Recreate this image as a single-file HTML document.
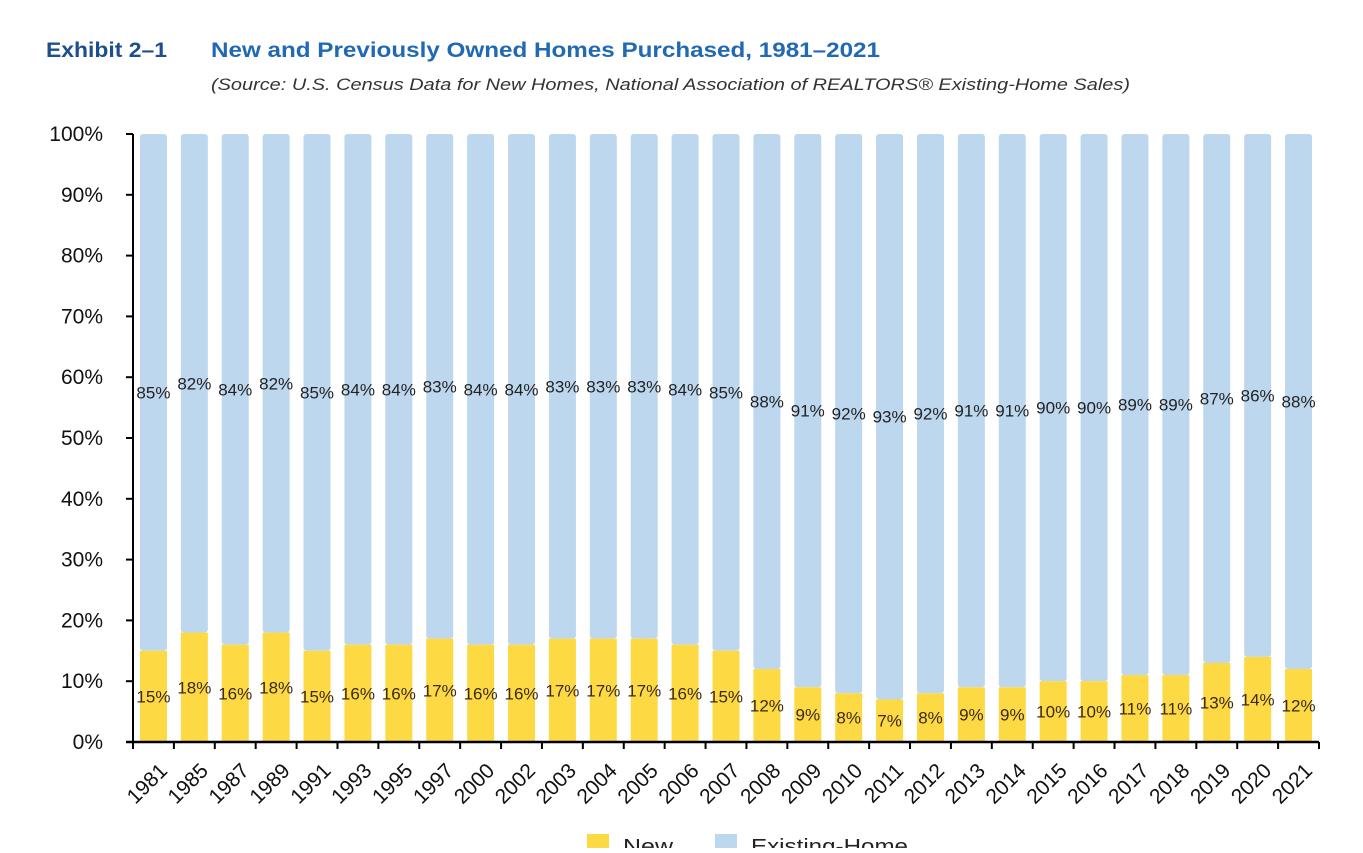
<!DOCTYPE html>
<html><head><meta charset="utf-8"><style>
body{margin:0;background:#fff;font-family:"Liberation Sans",sans-serif;}
</style></head><body>
<svg width="1363" height="848" viewBox="0 0 1363 848" xmlns="http://www.w3.org/2000/svg" font-family="Liberation Sans, sans-serif">
<text x="46" y="57" font-size="21" font-weight="bold" fill="#1d4f8a" textLength="121" lengthAdjust="spacingAndGlyphs">Exhibit 2–1</text>
<text x="211" y="57" font-size="21" font-weight="bold" fill="#2169b3" textLength="669" lengthAdjust="spacingAndGlyphs">New and Previously Owned Homes Purchased, 1981–2021</text>
<text x="211" y="90" font-size="17" font-style="italic" fill="#333" textLength="919" lengthAdjust="spacingAndGlyphs">(Source: U.S. Census Data for New Homes, National Association of REALTORS® Existing-Home Sales)</text>
<g id="plot"></g>
<g>
<rect x="587" y="834" width="22" height="22" fill="#fdd944"/>
<text x="623" y="853" font-size="20" fill="#222" textLength="50" lengthAdjust="spacingAndGlyphs">New</text>
<rect x="715" y="834" width="22" height="22" fill="#bdd7ee"/>
<text x="751" y="853" font-size="20" fill="#222" textLength="157" lengthAdjust="spacingAndGlyphs">Existing-Home</text>
</g>
</svg>
<script>
const categories=["1981","1985","1987","1989","1991","1993","1995","1997","2000","2002","2003","2004","2005","2006","2007","2008","2009","2010","2011","2012","2013","2014","2015","2016","2017","2018","2019","2020","2021"];
const newVals=[15,18,16,18,15,16,16,17,16,16,17,17,17,16,15,12,9,8,7,8,9,9,10,10,11,11,13,14,12];
const existingVals=[85,82,84,82,85,84,84,83,84,84,83,83,83,84,85,88,91,92,93,92,91,91,90,90,89,89,87,86,88];
const yTicks=[0,10,20,30,40,50,60,70,80,90,100];
const NS="http://www.w3.org/2000/svg";
const g=document.getElementById('plot');
const x0=133,x1=1319,yB=742,yT=134;
const slot=(x1-x0)/categories.length, bw=27;
const y=v=>yB-(v/100)*(yB-yT);
const cx=i=>x0+slot*(i+0.5);
function el(t,a){const e=document.createElementNS(NS,t);for(const k in a)e.setAttribute(k,a[k]);g.appendChild(e);return e;}
categories.forEach((c,i)=>{
  const total=newVals[i]+existingVals[i];
  const top=y(total), mid=y(newVals[i]);
  let b=el('rect',{x:cx(i)-bw/2,y:top,width:bw,height:mid-top,rx:3,fill:'#bdd7ee'});
  
  
  let b2=el('rect',{x:cx(i)-bw/2,y:mid,width:bw,height:yB-mid,fill:'#fdd944'});
  
  
  let t1=el('text',{x:cx(i),y:(yB+mid)/2+6,'text-anchor':'middle','font-size':17,fill:'#3a2a1a'});
  t1.textContent=newVals[i]+'%';
  
  
  let t2=el('text',{x:cx(i),y:(mid+top)/2+6,'text-anchor':'middle','font-size':17,fill:'#222'});
  t2.textContent=existingVals[i]+'%';
  
  
  let xl=el('text',{x:0,y:0,'text-anchor':'end','font-size':21,fill:'#111',transform:`translate(${cx(i)+15},${772}) rotate(-45)`});
  xl.textContent=c;
  
  
});
for(let i=0;i<=categories.length;i++){
  let t=el('line',{x1:x0+slot*i,x2:x0+slot*i,y1:yB,y2:yB+7,stroke:'#000','stroke-width':2});
  
  
}
yTicks.forEach(v=>{
  let t=el('line',{x1:x0-7,x2:x0,y1:y(v),y2:y(v),stroke:'#000','stroke-width':2});
  
  
  let l=el('text',{x:103,y:y(v)+7,'text-anchor':'end','font-size':21,fill:'#111'});
  l.textContent=v+'%';
  
  
});
let ya=el('line',{x1:x0,x2:x0,y1:yT,y2:yB+1,stroke:'#000','stroke-width':2});


let xa=el('line',{x1:x0-7,x2:x1,y1:yB,y2:yB,stroke:'#000','stroke-width':2.5});


</script>
</body></html>
